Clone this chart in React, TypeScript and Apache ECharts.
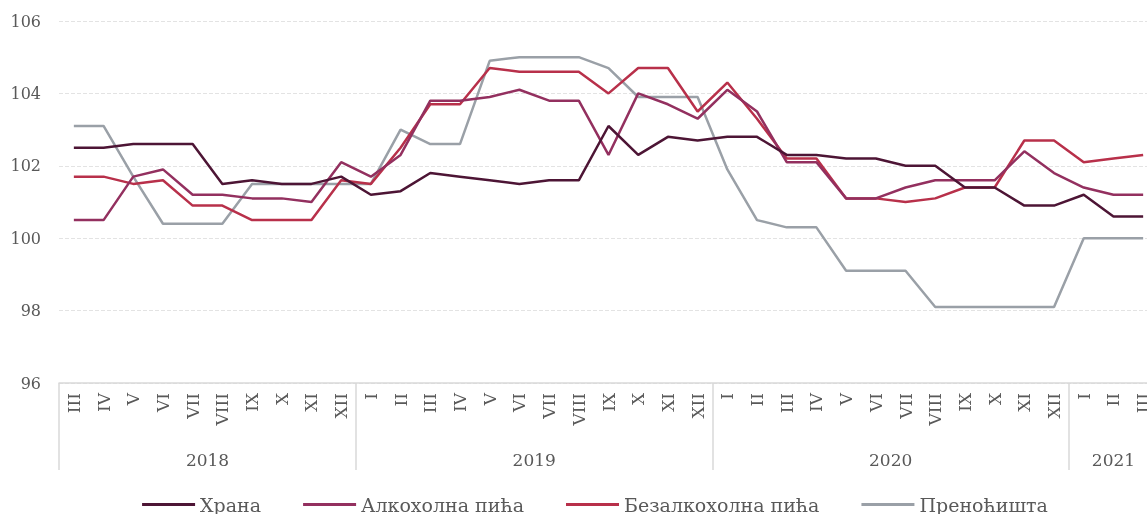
import React, { useEffect, useRef } from "react";
import * as echarts from "echarts";

const months: string[] = [
  "III", "IV", "V", "VI", "VII", "VIII", "IX", "X", "XI", "XII",
  "I", "II", "III", "IV", "V", "VI", "VII", "VIII", "IX", "X", "XI", "XII",
  "I", "II", "III", "IV", "V", "VI", "VII", "VIII", "IX", "X", "XI", "XII",
  "I", "II", "III",
];
const years: string[] = ["2018", "2019", "2020", "2021"];
const monthsPerYear: number[] = [10, 12, 12, 3];

const hrana: number[] = [
  102.5, 102.5, 102.6, 102.6, 102.6, 101.5, 101.6, 101.5, 101.5, 101.7,
  101.2, 101.3, 101.8, 101.7, 101.6, 101.5, 101.6, 101.6, 103.1, 102.3, 102.8, 102.7,
  102.8, 102.8, 102.3, 102.3, 102.2, 102.2, 102.0, 102.0, 101.4, 101.4, 100.9, 100.9,
  101.2, 100.6, 100.6,
];
const alkoholna: number[] = [
  100.5, 100.5, 101.7, 101.9, 101.2, 101.2, 101.1, 101.1, 101.0, 102.1,
  101.7, 102.3, 103.8, 103.8, 103.9, 104.1, 103.8, 103.8, 102.3, 104.0, 103.7, 103.3,
  104.1, 103.5, 102.1, 102.1, 101.1, 101.1, 101.4, 101.6, 101.6, 101.6, 102.4, 101.8,
  101.4, 101.2, 101.2,
];
const bezalkoholna: number[] = [
  101.7, 101.7, 101.5, 101.6, 100.9, 100.9, 100.5, 100.5, 100.5, 101.6,
  101.5, 102.5, 103.7, 103.7, 104.7, 104.6, 104.6, 104.6, 104.0, 104.7, 104.7, 103.5,
  104.3, 103.3, 102.2, 102.2, 101.1, 101.1, 101.0, 101.1, 101.4, 101.4, 102.7, 102.7,
  102.1, 102.2, 102.3,
];
const prenocista: number[] = [
  103.1, 103.1, 101.7, 100.4, 100.4, 100.4, 101.5, 101.5, 101.5, 101.5,
  101.5, 103.0, 102.6, 102.6, 104.9, 105.0, 105.0, 105.0, 104.7, 103.9, 103.9, 103.9,
  101.9, 100.5, 100.3, 100.3, 99.1, 99.1, 99.1, 98.1, 98.1, 98.1, 98.1, 98.1,
  100.0, 100.0, 100.0,
];
const seriesNames: string[] = ["Храна", "Алкохолна пића", "Безалкохолна пића", "Преноћишта"];
const seriesColors: string[] = ["#4d1535", "#93305f", "#b8304a", "#9aa0a7"];

// half-month positions for the year axis (boundaryGap false)
const totalMonths = monthsPerYear.reduce((a, b) => a + b, 0);
const yearAxisData: string[] = [];
const yearTickSet = new Set<number>();
const yearLabelSet = new Set<number>();
{
  let start = 0;
  for (let i = 0; i <= totalMonths * 2; i++) yearAxisData.push("");
  monthsPerYear.forEach((n, yi) => {
    yearTickSet.add(start * 2);
    const center = start * 2 + n;
    yearAxisData[center] = years[yi];
    yearLabelSet.add(center);
    start += n;
  });
  yearTickSet.add(start * 2);
}

const FONT = "DejaVu Serif";
const TEXT = "#595959";

export default function App() {
  const ref = useRef<HTMLDivElement>(null);
  useEffect(() => {
    document.body.style.overflow = "hidden";
    document.documentElement.style.overflow = "hidden";
    const chart = echarts.init(ref.current!, undefined, { renderer: "svg" });
    const data = [hrana, alkoholna, bezalkoholna, prenocista];
    chart.setOption({
      animation: false,
      textStyle: { fontFamily: FONT },
      grid: { left: 59, right: 32, top: 21, bottom: 131 },
      legend: {
        top: 490,
        left: "center",
        icon: "rect",
        itemWidth: 53,
        itemHeight: 3,
        itemGap: 42,
        textStyle: { fontFamily: FONT, fontSize: 19, color: TEXT },
        data: seriesNames,
      },
      xAxis: [
        {
          type: "category",
          data: months,
          boundaryGap: true,
          position: "bottom",
          axisLine: { show: true, lineStyle: { color: "#d9d9d9", width: 1.5 } },
          axisTick: { show: false },
          axisLabel: {
            rotate: 90,
            margin: 10,
            interval: 0,
            fontFamily: FONT,
            fontSize: 17,
            color: TEXT,
          },
        },
        {
          type: "category",
          data: yearAxisData,
          boundaryGap: false,
          position: "bottom",
          axisLine: { show: false },
          axisTick: {
            show: true,
            length: 87,
            interval: (i: number) => yearTickSet.has(i),
            lineStyle: { color: "#d9d9d9", width: 1.5 },
          },
          axisLabel: {
            margin: 68,
            interval: (i: number) => yearLabelSet.has(i),
            fontFamily: FONT,
            fontSize: 17,
            color: TEXT,
          },
        },
      ],
      yAxis: {
        type: "value",
        min: 96,
        max: 106,
        interval: 2,
        axisLine: { show: false },
        axisTick: { show: false },
        axisLabel: { margin: 18, fontFamily: FONT, fontSize: 16, color: TEXT },
        splitLine: { lineStyle: { color: "#e3e3e3", type: "dashed", width: 1 } },
      },
      series: seriesNames.map((name, i) => ({
        name,
        type: "line",
        xAxisIndex: 0,
        data: data[i],
        symbol: "none",
        lineStyle: { color: seriesColors[i], width: 2.5 },
        itemStyle: { color: seriesColors[i] },
        z: i === 3 ? 1 : 2 + (3 - i),
      })),
    });
    return () => chart.dispose();
  }, []);
  return (
    <div
      ref={ref}
      style={{ position: "fixed", left: 0, top: 0, width: 1190, height: 514 }}
    />
  );
}
